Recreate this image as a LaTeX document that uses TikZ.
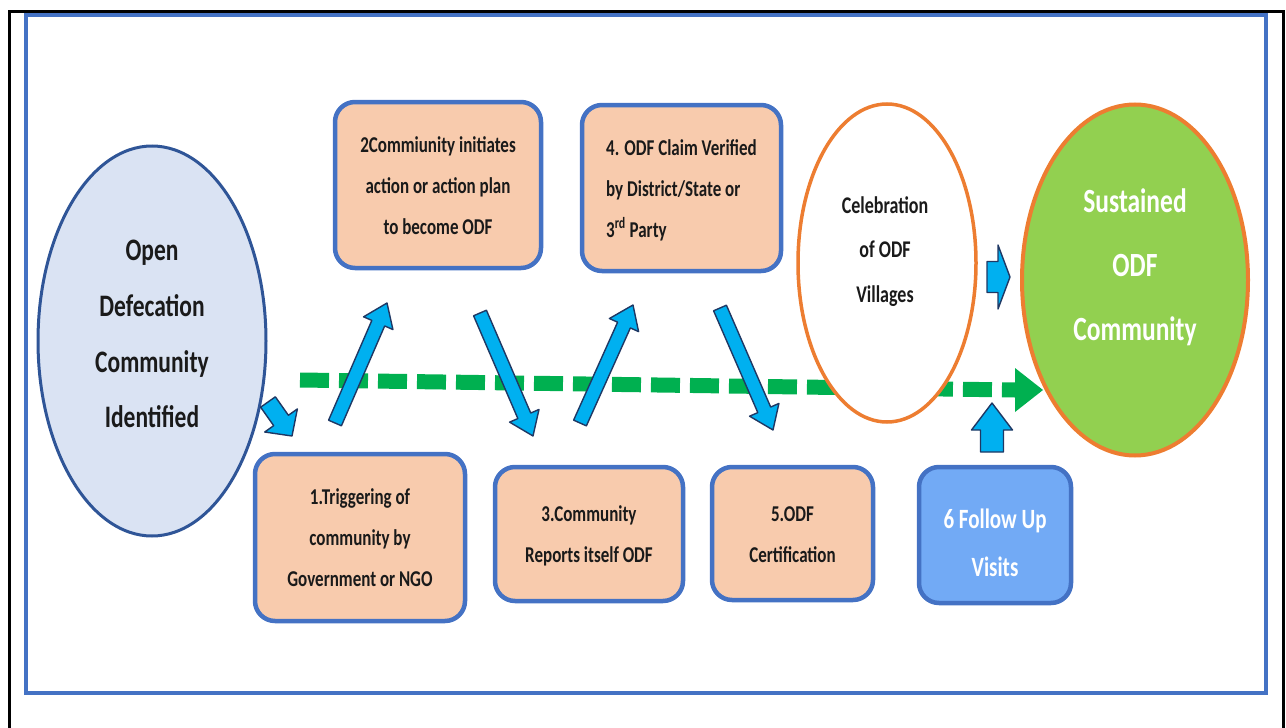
\documentclass[tikz,border=0pt]{standalone}
\usepackage{fontspec}
\setmainfont{Carlito}
\usepackage{graphicx}
\usetikzlibrary{shapes.geometric,calc}

\definecolor{peach}{HTML}{F8CBAD}
\definecolor{boxblue}{HTML}{4472C4}
\definecolor{paleblue}{HTML}{DAE3F3}
\definecolor{deepblue}{HTML}{2F5597}
\definecolor{orangeline}{HTML}{ED7D31}
\definecolor{leafgreen}{HTML}{92D050}
\definecolor{flowgreen}{HTML}{00B050}
\definecolor{skyblue}{HTML}{00B0F0}
\definecolor{navyline}{HTML}{1F3864}
\definecolor{followblue}{HTML}{72AAF5}
\definecolor{inkblack}{HTML}{1A1A1A}

% tall, narrow text block: font size, line distance, lines
\newcommand{\tallblock}[4][c]{%
  \scalebox{1}[1.33]{\fontsize{#2}{#3}\selectfont\bfseries
    \begin{tabular}{@{}#1@{}}#4\end{tabular}}}

% block arrow between two named coordinates:
% from, to, half shaft width, half head width, head length
\newcommand{\blockarrow}[5]{%
  \coordinate (#2-neck) at ($(#2)!#5!(#1)$);
  \draw[bluearrow]
    ($(#1)!#3!90:(#2)$) -- ($(#2-neck)!#3!90:(#2)$) --
    ($(#2-neck)!#4!90:(#2)$) -- (#2) --
    ($(#2-neck)!#4!-90:(#2)$) -- ($(#2-neck)!#3!-90:(#2)$) --
    ($(#1)!#3!-90:(#2)$) -- cycle;}

\tikzset{
  stepbox/.style={draw=boxblue, line width=4.5pt, fill=peach,
    rounded corners=20pt, inner sep=0pt, text=inkblack},
  followbox/.style={stepbox, fill=followblue, text=white},
  oval/.style={ellipse, inner sep=0pt, line width=3pt},
  textonly/.style={inner sep=0pt},
  bluearrow/.style={fill=skyblue, draw=navyline, line width=1.4pt,
    line join=round},
  flowline/.style={draw=flowgreen, line width=15pt,
    dash pattern=on 29pt off 10pt},
}

\begin{document}
\begin{tikzpicture}[x=1pt,y=-1pt]
\useasboundingbox (0,0) rectangle (1286,728);

% page frames
\draw[line width=3pt] (9,728) -- (9,11) -- (1283,11) -- (1283,728);
\draw[boxblue, line width=3.5pt] (26,15) rectangle (1266,693);

% main flow line towards the sustained community
\coordinate (flowstart) at (300,380);
\coordinate (flowend) at (1015,390);
\coordinate (flowtip) at (1043,390);
\draw[flowline] (flowstart) -- (flowend);
\fill[flowgreen] ($(flowend)+(0,-22)$) -- (flowtip) -- ($(flowend)+(0,22)$) -- cycle;

% start and end ellipses
\node[oval, draw=deepblue, fill=paleblue, minimum width=228pt,
  minimum height=390pt] (open) at (152,341) {};
\node[textonly, text=inkblack] (opentext) at (152,333)
  {\tallblock{23.5pt}{42pt}{Open\\Defecation\\Community\\Identified}};

\node[oval, draw=orangeline, line width=3.5pt, fill=white, minimum width=178pt,
  minimum height=318pt] (celebrate) at (887,263) {};
\node[textonly, text=inkblack] (celebratetext) at (885,249)
  {\tallblock{18pt}{33.5pt}{Celebration\\of ODF\\Villages}};

\node[oval, draw=orangeline, line width=4pt, fill=leafgreen,
  minimum width=226pt, minimum height=351pt] (sustained) at (1135,280) {};
\node[textonly, text=white] (sustainedtext) at (1135,264)
  {\tallblock{25.5pt}{48pt}{Sustained\\ODF\\Community}};

% numbered steps
\node[stepbox, minimum width=210pt, minimum height=167pt] (s1) at (360,537.5)
  {\tallblock{17pt}{30.8pt}{1.Triggering of\\community by\\Government or NGO}};
\node[stepbox, minimum width=206pt, minimum height=166pt] (s2) at (438,185)
  {\tallblock{17pt}{30.8pt}{2Commiunity initiates\\action or action plan\\to become ODF}};
\node[stepbox, minimum width=188pt, minimum height=134pt] (s3) at (589,534)
  {\tallblock{17pt}{30.8pt}{3.Community\\Reports itself ODF}};
\node[stepbox, minimum width=199pt, minimum height=166pt] (s4) at (681.5,188)
  {\tallblock[l]{17pt}{30.8pt}{4. ODF Claim Verified\\by District/State or\\3\textsuperscript{rd} Party}};
\node[stepbox, minimum width=161pt, minimum height=133pt] (s5) at (792.5,533.5)
  {\tallblock{17pt}{30.8pt}{5.ODF\\Certification}};
\node[followbox, minimum width=152pt, minimum height=136pt] (s6) at (995,535) {};
\node[textonly, text=white] (s6text) at (995,543)
  {\tallblock{21pt}{35.5pt}{6 Follow Up\\Visits}};

% block arrows between the steps
\coordinate (a0) at (268,402);  \coordinate (a1) at (292,436);
\coordinate (b0) at (335,423);  \coordinate (b1) at (387,303);
\coordinate (c0) at (480,313);  \coordinate (c1) at (533,436);
\coordinate (d0) at (580,423);  \coordinate (d1) at (633,305);
\coordinate (e0) at (720,308);  \coordinate (e1) at (773,430);
\coordinate (f0) at (987,277);  \coordinate (f1) at (1010,277);
\coordinate (g0) at (992,452);  \coordinate (g1) at (992,403);

\blockarrow{a0}{a1}{9pt}{20pt}{19pt}
\blockarrow{b0}{b1}{7pt}{16pt}{22pt}
\blockarrow{c0}{c1}{7pt}{16pt}{22pt}
\blockarrow{d0}{d1}{7pt}{16pt}{22pt}
\blockarrow{e0}{e1}{7pt}{16pt}{22pt}
\blockarrow{f0}{f1}{15.5pt}{32pt}{12pt}
\blockarrow{g0}{g1}{11.5pt}{20.5pt}{27pt}
\end{tikzpicture}
\end{document}
